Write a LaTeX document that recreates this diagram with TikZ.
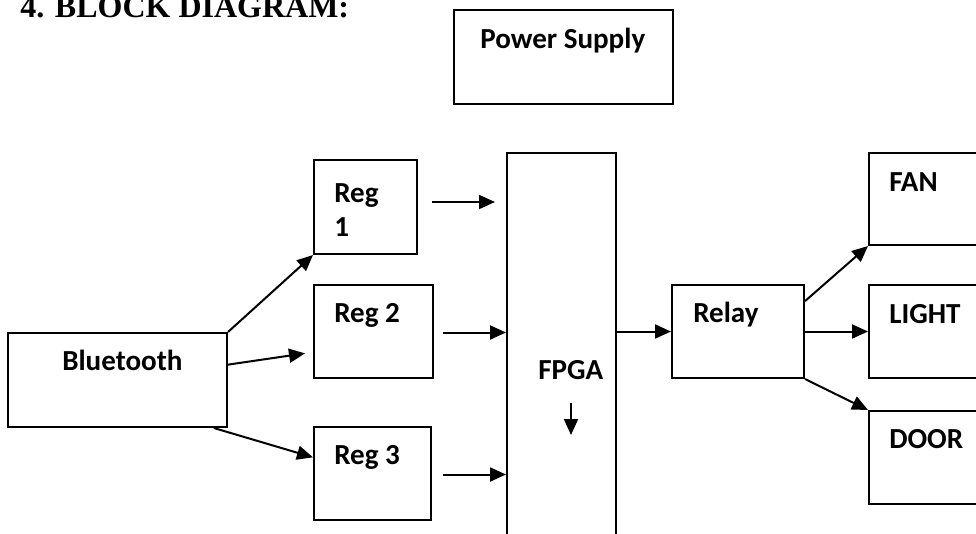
\documentclass[tikz,border=0pt]{standalone}
\usepackage{fontspec}
\setmainfont{Carlito}
\newfontfamily\titlefont{Liberation Serif}
\usetikzlibrary{arrows.meta,calc}
\tikzset{
  box/.style={draw, line width=1.5pt, anchor=north west, inner sep=0pt},
  lbl/.style={anchor=base west, inner sep=0pt, font=\bfseries\fontsize{21.8}{26}\selectfont},
  arr/.style={line width=1.5pt, -{Triangle[length=12pt,width=10.5pt]}},
}
\begin{document}
\begin{tikzpicture}[x=0.75pt, y=-0.75pt]
\useasboundingbox (0,0) rectangle (976,533);
\clip (0,0) rectangle (976,533);
% title
\node[anchor=base west, inner sep=0pt, font=\titlefont\bfseries\fontsize{24}{28}\selectfont] (title) at (20,17) {4. BLOCK DIAGRAM:};
% boxes
\node[box, minimum width=219*0.75pt, minimum height=94*0.75pt] (ps) at (453,9) {};
\node[box, minimum width=219*0.75pt, minimum height=94*0.75pt] (bt) at (7,332) {};
\node[box, minimum width=103*0.75pt, minimum height=94*0.75pt] (r1) at (313,159) {};
\node[box, minimum width=119*0.75pt, minimum height=93*0.75pt] (r2) at (313,284) {};
\node[box, minimum width=117*0.75pt, minimum height=93*0.75pt] (r3) at (313,426) {};
\node[box, minimum width=109*0.75pt, minimum height=420*0.75pt] (fpga) at (506,152) {};
\node[box, minimum width=132*0.75pt, minimum height=93*0.75pt] (relay) at (671,284) {};
\node[box, minimum width=130*0.75pt, minimum height=92*0.75pt] (fan) at (868,152) {};
\node[box, minimum width=130*0.75pt, minimum height=93*0.75pt] (light) at (868,284) {};
\node[box, minimum width=130*0.75pt, minimum height=93*0.75pt] (door) at (868,410) {};
% labels
\node[lbl] (tps) at (480,48) {Power Supply};
\node[lbl] (tbt) at (62,370) {Bluetooth};
\node[lbl] (tr1a) at (334,202) {Reg};
\node[lbl] (tr1b) at (334,236) {1};
\node[lbl] (tr2) at (334,322) {Reg 2};
\node[lbl] (tr3) at (334,464) {Reg 3};
\node[lbl] (tfpga) at (538,379) {FPGA};
\node[lbl] (trelay) at (693,322) {Relay};
\node[lbl] (tfan) at (889,191) {FAN};
\node[lbl] (tlight) at (889,323) {LIGHT};
\node[lbl] (tdoor) at (889,448) {DOOR};
% connectors from Bluetooth
\draw[arr] (bt.north east) -- (r1.south west);
\draw[arr] ($(bt.north east)!0.34!(bt.south east)$) -- ($(r2.north west)!0.73!(r2.south west)+(-8,0)$);
\draw[arr] ($(bt.south west)!0.936!(bt.south east)$) -- ($(r3.north west)!0.33!(r3.south west)$);
% regs to FPGA
\coordinate (r1s) at ($(r1.east)+(14,-5)$);
\coordinate (r1e) at ($(fpga.west |- r1s)+(-11,0)$);
\draw[arr] (r1s) -- (r1e);
\draw[arr] ($(r2.east)+(9,1)$) -- (fpga.west |- {$(r2.east)+(0,1)$});
\draw[arr] ($(r3.east)+(11,1)$) -- (fpga.west |- {$(r3.east)+(0,1)$});
% FPGA to relay
\draw[arr] (fpga.east |- relay.west) -- (relay.west);
% relay to loads
\draw[arr] ($(relay.north east)!0.18!(relay.south east)$) -- (fan.south west);
\draw[arr] (relay.east) -- (light.west);
\draw[arr] (relay.south east) -- (door.north west);
% small arrow inside FPGA
\coordinate (da) at (571,403);
\coordinate (db) at (571,435);
\draw[arr] (da) -- (db);
\end{tikzpicture}
\end{document}
